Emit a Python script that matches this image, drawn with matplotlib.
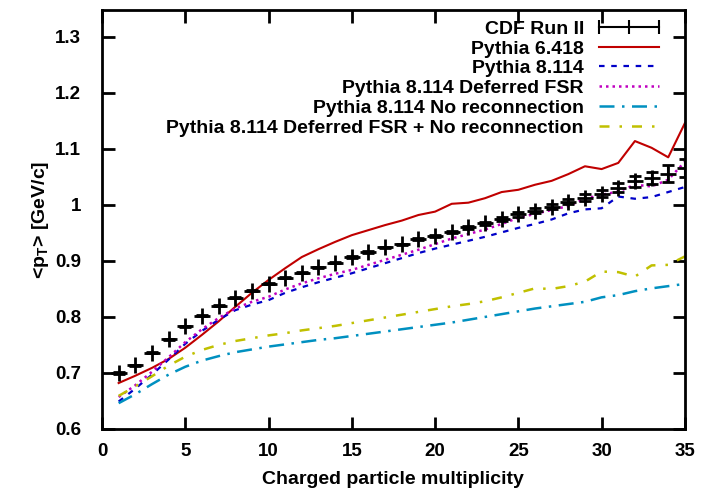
import matplotlib
matplotlib.use("Agg")
import matplotlib.pyplot as plt
from matplotlib.lines import Line2D
from matplotlib.legend_handler import HandlerBase
from matplotlib.ticker import FormatStrFormatter

plt.rcParams['font.family'] = ['Liberation Sans', 'DejaVu Sans']
plt.rcParams['font.weight'] = 'bold'
plt.rcParams['mathtext.fontset'] = 'custom'
plt.rcParams['mathtext.bf'] = 'Liberation Sans:bold'
plt.rcParams['mathtext.rm'] = 'Liberation Sans:bold'

# multiplicity bins
nch = list(range(1, 36))

# CDF Run II data
cdf = [0.700, 0.714, 0.736, 0.760, 0.783, 0.802, 0.820, 0.834, 0.847, 0.859,
       0.870, 0.879, 0.889, 0.897, 0.907, 0.916, 0.924, 0.930, 0.939, 0.945,
       0.952, 0.960, 0.967, 0.975, 0.983, 0.990, 0.997, 1.006, 1.013, 1.020,
       1.031, 1.042, 1.048, 1.056, 1.066]
cdf_err = [0.001, 0.001, 0.001, 0.001, 0.001, 0.001, 0.001, 0.001, 0.001, 0.001,
           0.001, 0.001, 0.001, 0.001, 0.001, 0.001, 0.001, 0.001, 0.002, 0.002,
           0.002, 0.003, 0.003, 0.004, 0.004, 0.004, 0.005, 0.005, 0.006, 0.006,
           0.008, 0.010, 0.011, 0.015, 0.016]

py6 = [0.682, 0.695, 0.709, 0.725, 0.745, 0.768, 0.792, 0.818, 0.843, 0.866,
       0.887, 0.907, 0.921, 0.934, 0.946, 0.955, 0.964, 0.972, 0.982, 0.988,
       1.002, 1.004, 1.012, 1.023, 1.027, 1.036, 1.043, 1.055, 1.069, 1.064,
       1.075, 1.114, 1.102, 1.085, 1.146]

py8 = [0.649, 0.672, 0.697, 0.724, 0.752, 0.775, 0.795, 0.812, 0.822, 0.830,
       0.843, 0.853, 0.862, 0.870, 0.878, 0.887, 0.896, 0.905, 0.914, 0.922,
       0.929, 0.936, 0.943, 0.951, 0.959, 0.966, 0.974, 0.985, 0.992, 0.994,
       1.015, 1.011, 1.014, 1.023, 1.032]

py8_dfsr = [0.657, 0.678, 0.702, 0.728, 0.755, 0.778, 0.798, 0.815, 0.827, 0.836,
            0.849, 0.860, 0.869, 0.877, 0.884, 0.893, 0.902, 0.911, 0.920, 0.930,
            0.940, 0.948, 0.956, 0.966, 0.977, 0.984, 0.991, 0.998, 1.011, 1.018,
            1.024, 1.036, 1.033, 1.045, 1.077]

py8_norec = [0.646, 0.662, 0.680, 0.697, 0.711, 0.722, 0.730, 0.737, 0.742, 0.747,
             0.751, 0.755, 0.759, 0.762, 0.766, 0.770, 0.774, 0.778, 0.782, 0.786,
             0.790, 0.795, 0.800, 0.805, 0.810, 0.815, 0.819, 0.823, 0.827, 0.835,
             0.839, 0.846, 0.851, 0.855, 0.859]

py8_dfsr_norec = [0.659, 0.676, 0.694, 0.713, 0.729, 0.741, 0.750, 0.757, 0.762, 0.767,
                  0.771, 0.776, 0.780, 0.784, 0.789, 0.794, 0.799, 0.804, 0.809, 0.814,
                  0.819, 0.823, 0.828, 0.835, 0.843, 0.851, 0.850, 0.855, 0.863, 0.881,
                  0.880, 0.872, 0.892, 0.893, 0.908]


class GnuplotErrKey(HandlerBase):
    # key sample like gnuplot: |----+----|
    def create_artists(self, legend, orig_handle, xdescent, ydescent,
                       width, height, fontsize, trans):
        y = height / 2 - ydescent
        x0, x1 = -xdescent, width - xdescent
        bar = Line2D([x0, x1], [y, y], color='black', lw=1.5)
        ends = Line2D([x0, x1], [y, y], ls='none', marker='|', ms=10,
                      mew=1.5, color='black')
        mid = Line2D([(x0 + x1) / 2], [y], ls='none', marker='|', ms=10,
                     mew=1.5, color='black')
        for a in (bar, ends, mid):
            a.set_transform(trans)
        return [bar, ends, mid]


fig = plt.figure(figsize=(7.01, 4.88), dpi=100)
ax = fig.add_axes([0.1455, 0.121, 0.8315, 0.8585])

ax.errorbar(nch, cdf, yerr=cdf_err, fmt='+', color='black', ms=11, mew=2,
            elinewidth=1.5, capsize=4, capthick=1.1, zorder=5)
cdf_key = Line2D([], [], color='black', label='CDF Run II')

l6, = ax.plot(nch, py6, color='#c00000', lw=1.5, label='Pythia 6.418')
l8, = ax.plot(nch, py8, color='#0000c8', lw=1.6, ls=(0, (2.5, 3)), label='Pythia 8.114')
l8d, = ax.plot(nch, py8_dfsr, color='#c000c0', lw=1.8, ls=(0, (1, 1.6)),
               label='Pythia 8.114 Deferred FSR')
l8n, = ax.plot(nch, py8_norec, color='#0090c0', lw=1.8, ls=(0, (6, 3, 1, 3)),
               label='Pythia 8.114 No reconnection')
l8dn, = ax.plot(nch, py8_dfsr_norec, color='#c0c000', lw=1.8, ls=(0, (4, 4, 1, 4)),
                label='Pythia 8.114 Deferred FSR + No reconnection')

ax.set_xlim(0, 35)
ax.set_ylim(0.6, 1.348)
ax.set_xticks(range(0, 36, 5))
ax.set_yticks([0.6, 0.7, 0.8, 0.9, 1.0, 1.1, 1.2, 1.3])
ax.yaxis.set_major_formatter(FormatStrFormatter('%g'))
ax.tick_params(direction='in', length=9, width=2, top=True, right=True,
               labelsize=13.5)
ax.tick_params(axis='x', pad=10)
ax.tick_params(axis='y', pad=15)
for s in ax.spines.values():
    s.set_linewidth(2)

ax.set_xlabel('Charged particle multiplicity', fontsize=14, fontweight='bold', labelpad=8)
ax.set_ylabel(r'<p$_{\mathbf{T}}$> [GeV/c]', fontsize=14, fontweight='bold', labelpad=3)

handles = [cdf_key, l6, l8, l8d, l8n, l8dn]
leg = ax.legend(handles, [h.get_label() for h in handles],
                loc='upper right', markerfirst=False, frameon=False,
                fontsize=14, handlelength=3.1, labelspacing=0.11, handletextpad=0.75,
                borderaxespad=0, borderpad=0.2, bbox_to_anchor=(0.962, 0.985),
                handler_map={cdf_key: GnuplotErrKey()})

fig.savefig('out.png', dpi=100)
